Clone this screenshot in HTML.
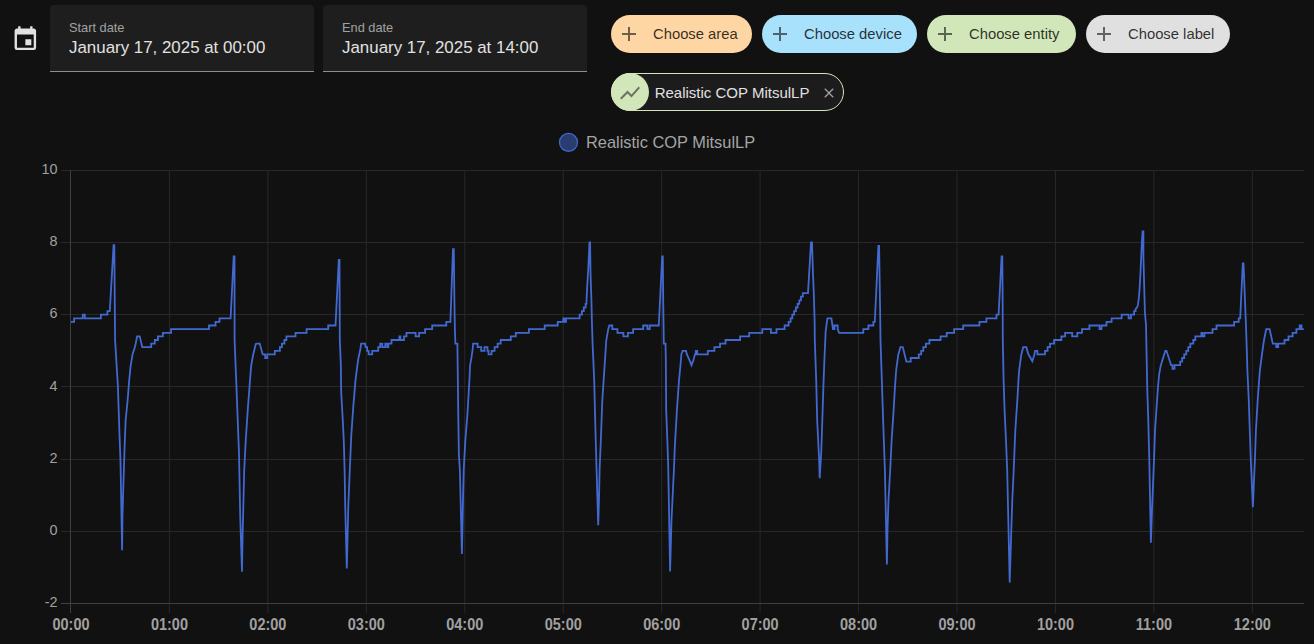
<!DOCTYPE html>
<html lang="en">
<head>
<meta charset="utf-8">
<title>History</title>
<style>
  html, body { margin: 0; padding: 0; }
  body {
    width: 1314px; height: 644px; overflow: hidden; position: relative;
    background: #111111;
    font-family: "Liberation Sans", Arial, sans-serif;
    color: #e1e1e1;
  }
  .abs { position: absolute; }
  .cal { left: 10.7px; top: 24.6px; width: 28.7px; height: 28.7px; }
  .field {
    position: absolute; top: 5px; width: 264px; height: 66px;
    background: #1e1e1e; border-radius: 4px 4px 0 0;
    border-bottom: 1px solid #8e8e8e;
  }
  .field .lbl {
    position: absolute; left: 19px; top: 15px; font-size: 12.8px; line-height: 15px;
    color: #a2a2a2; white-space: nowrap;
  }
  .field .val {
    position: absolute; left: 19px; top: 33px; font-size: 16.9px; line-height: 20px;
    color: #e1e1e1; white-space: nowrap;
  }
  .chip {
    position: absolute; top: 15px; height: 38px; border-radius: 19px;
    color: rgba(0,0,0,0.8); font-size: 14.8px;
  }
  .chip svg { position: absolute; left: 6px; top: 7px; width: 24px; height: 24px; fill: rgba(0,0,0,0.56); }
  .chip span { position: absolute; left: 42px; top: 11px; line-height: 17px; white-space: nowrap; }
  .ent {
    position: absolute; left: 611px; top: 73px; width: 231px; height: 36px;
    border: 1px solid #d2e7b9; border-radius: 19px; background: #1c1c1c;
  }
  .ent .ico { position: absolute; left: -1px; top: -1px; width: 38px; height: 38px; border-radius: 50%; background: #d2e7b9; }
  .ent .ico svg { position: absolute; left: 6.7px; top: 8.2px; width: 24px; height: 24px; fill: #6b7561; }
  .ent span { position: absolute; left: 42.7px; top: 9.6px; font-size: 15px; line-height: 17px; color: #e1e1e1; white-space: nowrap; }
  .ent .x { position: absolute; left: 208.8px; top: 10.8px; width: 16px; height: 16px; fill: #a0a0a0; }
  .legend { position: absolute; left: 586px; top: 133px; font-size: 16.4px; line-height: 19px; color: #a5a5a5; white-space: nowrap; }
  svg.chart { position: absolute; left: 0; top: 0; }
  .yl { font-size: 14.4px; fill: #a0a0a0; }
  .xl { font-size: 15.6px; font-weight: 700; fill: #a0a0a0; }
</style>
</head>
<body>
<svg class="abs cal" viewBox="0 0 24 24" fill="#e1e1e1"><path d="M19,19H5V8H19M16,1V3H8V1H6V3H5C3.89,3 3,3.89 3,5V19A2,2 0 0,0 5,21H19A2,2 0 0,0 21,19V5C21,3.89 20.1,3 19,3H18V1M17,12H12V17H17V12Z"/></svg>

<div class="field" style="left:50px"><div class="lbl">Start date</div><div class="val">January 17, 2025 at 00:00</div></div>
<div class="field" style="left:323px"><div class="lbl">End date</div><div class="val">January 17, 2025 at 14:00</div></div>

<div class="chip" style="left:611px;width:141px;background:#fed6a4"><svg viewBox="0 0 24 24"><path d="M19,13H13V19H11V13H5V11H11V5H13V11H19V13Z"/></svg><span>Choose area</span></div>
<div class="chip" style="left:762px;width:155px;background:#a8e1fb"><svg viewBox="0 0 24 24"><path d="M19,13H13V19H11V13H5V11H11V5H13V11H19V13Z"/></svg><span>Choose device</span></div>
<div class="chip" style="left:927px;width:149px;background:#d2e7b9"><svg viewBox="0 0 24 24"><path d="M19,13H13V19H11V13H5V11H11V5H13V11H19V13Z"/></svg><span>Choose entity</span></div>
<div class="chip" style="left:1086px;width:144px;background:#e0e0e0"><svg viewBox="0 0 24 24"><path d="M19,13H13V19H11V13H5V11H11V5H13V11H19V13Z"/></svg><span>Choose label</span></div>

<div class="ent">
  <div class="ico"><svg viewBox="0 0 24 24"><path d="M3.5,18.49L9.5,12.48L13.5,16.48L22,6.92L20.59,5.51L13.5,13.48L9.5,9.48L2,16.99L3.5,18.49Z"/></svg></div>
  <span>Realistic COP MitsulLP</span>
  <svg class="x" viewBox="0 0 24 24"><path d="M19,6.41L17.59,5L12,10.59L6.41,5L5,6.41L10.59,12L5,17.59L6.41,19L12,13.41L17.59,19L19,17.59L13.41,12L19,6.41Z"/></svg>
</div>

<div class="legend">Realistic COP MitsulLP</div>

<svg class="chart" width="1314" height="644" viewBox="0 0 1314 644">
  <circle cx="568.5" cy="142.4" r="9.0" fill="rgba(66,105,208,0.5)" stroke="#4269d0" stroke-width="1.2"/>
  <g stroke-width="1">
    <line x1="61" y1="170.5" x2="1304" y2="170.5" stroke="#282828"/>
    <line x1="61" y1="242.50" x2="1304" y2="242.50" stroke="#282828"/>
    <line x1="61" y1="314.50" x2="1304" y2="314.50" stroke="#282828"/>
    <line x1="61" y1="386.50" x2="1304" y2="386.50" stroke="#282828"/>
    <line x1="61" y1="459.50" x2="1304" y2="459.50" stroke="#282828"/>
    <line x1="61" y1="531.50" x2="1304" y2="531.50" stroke="#282828"/>
    <line x1="169.44" y1="170" x2="169.44" y2="613" stroke="#282828"/>
    <line x1="267.89" y1="170" x2="267.89" y2="613" stroke="#282828"/>
    <line x1="366.33" y1="170" x2="366.33" y2="613" stroke="#282828"/>
    <line x1="464.77" y1="170" x2="464.77" y2="613" stroke="#282828"/>
    <line x1="563.21" y1="170" x2="563.21" y2="613" stroke="#282828"/>
    <line x1="661.66" y1="170" x2="661.66" y2="613" stroke="#282828"/>
    <line x1="760.10" y1="170" x2="760.10" y2="613" stroke="#282828"/>
    <line x1="858.54" y1="170" x2="858.54" y2="613" stroke="#282828"/>
    <line x1="956.99" y1="170" x2="956.99" y2="613" stroke="#282828"/>
    <line x1="1055.43" y1="170" x2="1055.43" y2="613" stroke="#282828"/>
    <line x1="1153.87" y1="170" x2="1153.87" y2="613" stroke="#282828"/>
    <line x1="1252.32" y1="170" x2="1252.32" y2="613" stroke="#282828"/>
    <line x1="61" y1="603.5" x2="1304" y2="603.5" stroke="#3f3f3f"/>
    <line x1="70.5" y1="170" x2="70.5" y2="613" stroke="#3f3f3f"/>
  </g>
  <g class="yl" text-anchor="end">
    <text x="57.5" y="174.0">10</text>
    <text x="57.5" y="246.2">8</text>
    <text x="57.5" y="318.3">6</text>
    <text x="57.5" y="390.5">4</text>
    <text x="57.5" y="462.6">2</text>
    <text x="57.5" y="534.8">0</text>
    <text x="57.5" y="607.0">-2</text>
  </g>
  <g class="xl" text-anchor="middle">
    <text transform="translate(71.00 629.8) scale(0.93 1)">00:00</text>
    <text transform="translate(169.44 629.8) scale(0.93 1)">01:00</text>
    <text transform="translate(267.89 629.8) scale(0.93 1)">02:00</text>
    <text transform="translate(366.33 629.8) scale(0.93 1)">03:00</text>
    <text transform="translate(464.77 629.8) scale(0.93 1)">04:00</text>
    <text transform="translate(563.21 629.8) scale(0.93 1)">05:00</text>
    <text transform="translate(661.66 629.8) scale(0.93 1)">06:00</text>
    <text transform="translate(760.10 629.8) scale(0.93 1)">07:00</text>
    <text transform="translate(858.54 629.8) scale(0.93 1)">08:00</text>
    <text transform="translate(956.99 629.8) scale(0.93 1)">09:00</text>
    <text transform="translate(1055.43 629.8) scale(0.93 1)">10:00</text>
    <text transform="translate(1153.87 629.8) scale(0.93 1)">11:00</text>
    <text transform="translate(1252.32 629.8) scale(0.93 1)">12:00</text>
  </g>
  <path d="M71.0 321.9H74.1V318.3H82.8V314.7H84.8V318.3H100.9V314.7H107.4V311.1H109.8L113.6 245.1L114.3 245.1L115.1 340.0L117.9 386.4L119.5 434.9L120.5 461.1L122.1 550.3L122.5 515.0L123.4 485.0L124.5 450.0L125.6 420.7L127.6 400.6L129.2 380.4L130.6 366.2L132.6 354.1L135.2 346.1L137.1 336.4H139.7L142.3 347.2H151.2V343.6H154.8V340.0H157.9V336.4H162.9V332.8H171.1V329.2H209.0V325.5H215.5V321.9H219.5V318.3H230.6L233.7 256.3L234.5 256.3L234.6 340.0L236.2 380.4L237.6 416.7L239.0 453.0L240.2 515.6L242.0 571.7L242.6 535.7L243.6 495.4L244.2 470.0L245.7 441.0L247.7 410.6L249.7 384.4L251.1 366.2L253.1 355.0L255.8 344.0L256.8 343.6H259.7L262.7 354.4H265.2V358.0H267.3V354.4H274.8V350.8H279.9V347.2H281.9V343.6H284.4V340.0H286.4V336.4H295.5V332.8H306.6V329.2H328.2V325.5H335.5L338.8 259.9L339.5 259.9L339.8 340.0L340.8 364.2L341.2 392.5L342.6 416.7L343.8 440.9L344.6 470.0L345.2 505.5L346.8 568.4L348.3 505.5L349.8 470.0L351.3 434.9L353.3 406.6L355.3 382.4L356.7 370.3L358.4 358.2L360.4 349.1L361.1 343.6H365.1L365.6 347.2H367.1V350.8H368.6V354.4H372.2V350.8H378.2V347.2H380.2V343.6H382.3V347.2H385.3V343.6H387.3V347.2H388.3V343.6H391.5V340.0H399.4V336.4H400.4V340.0H404.0V336.4H406.5V332.8H415.6V336.4H419.1V332.8H425.1V329.2H432.2V325.5H446.3V321.9H450.4L453.0 249.2L453.8 249.2L454.4 300.0L454.9 330.3L455.4 343.6L457.4 343.6L458.3 416.7L458.9 455.0L459.9 470.0L461.9 553.9L463.0 500.0L463.7 470.0L465.3 440.9L467.4 414.7L469.4 380.4L470.1 365.0L471.4 358.2L472.8 348.1L473.1 343.6H477.6V347.2H481.2V350.8H484.5V347.2H487.5V350.8H488.5V354.4H491.6V350.8H494.6V347.2H497.6V343.6H500.7V340.0H510.8V336.4H515.8V332.8H528.9V329.2H544.7V325.5H557.7V321.9H563.3V318.3H564.6V321.9H566.0V318.3H579.6V314.7H581.9V311.1H583.8V307.5H585.6V303.9H586.4L587.1 288.6L588.3 268.4L589.5 242.3L590.1 242.3L590.5 272.3L591.4 300.2L592.0 324.4L592.7 346.8L593.1 355.0L594.2 380.4L595.2 420.7L596.2 457.1L598.2 525.2L599.0 500.0L599.6 470.0L600.8 440.9L602.3 400.6L604.3 370.3L606.3 340.0L608.3 328.9L609.3 325.5H612.3V329.2H617.4V332.8H623.4V336.4H627.9V332.8H633.1V329.2H643.2V325.5H647.4V329.2H649.7V325.5H658.8L662.2 256.3L662.8 256.3L663.2 300.0L663.8 343.6L665.5 343.6L665.8 358.0L666.2 410.6L667.5 445.0L668.3 470.0L670.1 571.5L671.5 520.0L673.9 470.0L674.9 445.0L676.9 410.6L679.0 380.4L680.4 366.0L681.4 354.1L682.6 350.8L686.0 350.8L686.8 354.1L689.5 360.1L691.5 365.2L693.5 360.1L694.9 354.4H695.8V350.8H697.2V354.4H707.8V350.8H714.4V347.2H720.0V343.6H725.5V340.0H740.1V336.4H749.2V332.8H762.3V329.2H770.9V332.8H776.5V329.2H784.6V325.5H788.6V321.9H790.6V318.3H792.3V314.7H794.1V311.1H795.9V307.5H797.6V303.9H799.3V300.3H801.0V296.7H802.8V293.1H808.0L811.0 242.3L812.0 242.3L813.0 274.6L813.7 290.5L814.6 320.0L814.8 340.0L816.2 380.4L817.2 420.7L819.2 461.1L819.7 478.2L821.3 451.0L822.3 420.7L823.6 380.4L824.6 355.0L825.7 331.0L827.4 318.3H831.4L833.0 329.2H834.4V325.5H837.7V329.2L839.1 332.8H863.3V329.2H868.4V325.5H873.4V321.9H874.8L878.4 245.8L879.1 245.8L880.1 308.7L880.5 340.0L881.5 370.3L882.5 400.6L883.5 430.8L884.9 470.0L886.9 564.6L887.5 530.0L888.5 500.0L890.2 470.0L891.6 440.9L893.6 410.6L895.0 386.4L896.2 370.0L898.2 355.1L900.4 347.2L902.8 347.2L906.4 361.6H910.7V358.0H918.8V354.4H921.2V350.8H923.3V347.2H925.9V343.6H929.4V340.0H940.6V336.4H946.7V332.8H954.1V329.2H963.2V325.5H979.4V321.9H986.4V318.3H996.5V314.7H998.6L1001.6 256.3L1002.3 256.3L1002.6 292.6L1002.8 340.0L1003.6 380.4L1004.6 410.6L1006.0 440.9L1007.2 470.0L1009.7 582.6L1011.0 540.0L1012.3 500.0L1013.7 470.0L1015.3 430.8L1017.3 400.6L1018.7 376.3L1019.2 370.0L1021.2 355.1L1023.2 347.2L1026.3 347.2L1028.3 354.1L1030.3 357.5L1032.3 361.2L1034.3 355.1L1035.1 350.8H1037.4V354.4H1045.0V350.8H1047.6V347.2H1050.0V343.6H1054.1V340.0H1061.4V336.4H1065.1V332.8H1072.2V336.4H1077.3V332.8H1082.0V329.2H1089.4V325.5H1099.5V329.2H1101.5V325.5H1106.5V321.9H1111.6V318.3H1121.6V314.7H1128.6V318.3H1131.0V314.7H1134.1V311.1H1135.6L1135.6 308.9L1137.2 307.3L1138.0 304.2L1138.7 299.5L1139.5 290.2L1140.3 276.2L1141.1 259.2L1141.8 243.6L1142.6 231.5L1143.4 231.5L1143.4 256.1L1144.2 287.1L1144.9 312.0L1146.0 325.0L1146.5 350.0L1147.3 390.6L1148.3 420.8L1149.3 460.0L1150.9 542.8L1152.0 510.0L1153.0 485.0L1154.0 460.0L1155.0 430.9L1156.6 406.7L1158.0 386.5L1159.2 374.0L1160.6 366.3L1163.0 358.2L1165.3 350.8L1166.5 350.8L1171.1 365.2H1172.5V368.8H1174.5V365.2H1180.2V361.6H1182.2V358.0H1184.2V354.4H1186.3V350.8H1188.3V347.2H1190.3V343.6H1193.3V340.0H1195.3V336.4H1201.4V332.8H1202.4V336.4H1204.4V332.8H1212.5V329.2H1216.5V325.5H1234.1V321.9H1238.7V318.3H1240.2L1242.8 263.4L1243.5 263.4L1245.8 320.9L1246.8 350.0L1247.4 370.4L1248.8 400.6L1249.8 430.9L1250.8 460.0L1252.9 507.1L1254.0 480.0L1254.9 460.0L1255.9 430.9L1257.9 396.6L1259.9 370.4L1262.0 354.2L1264.0 340.1L1266.2 329.2L1269.6 329.2L1272.8 343.6H1276.3V347.2H1278.2V343.6H1284.5V340.0H1288.5V336.4H1292.6V332.8H1296.4V329.2H1299.7V325.5H1301.5V329.2H1303.8" fill="none" stroke="#4269d0" stroke-width="1.8" stroke-linejoin="miter" stroke-miterlimit="4" stroke-linecap="butt"/>
</svg>
</body>
</html>
